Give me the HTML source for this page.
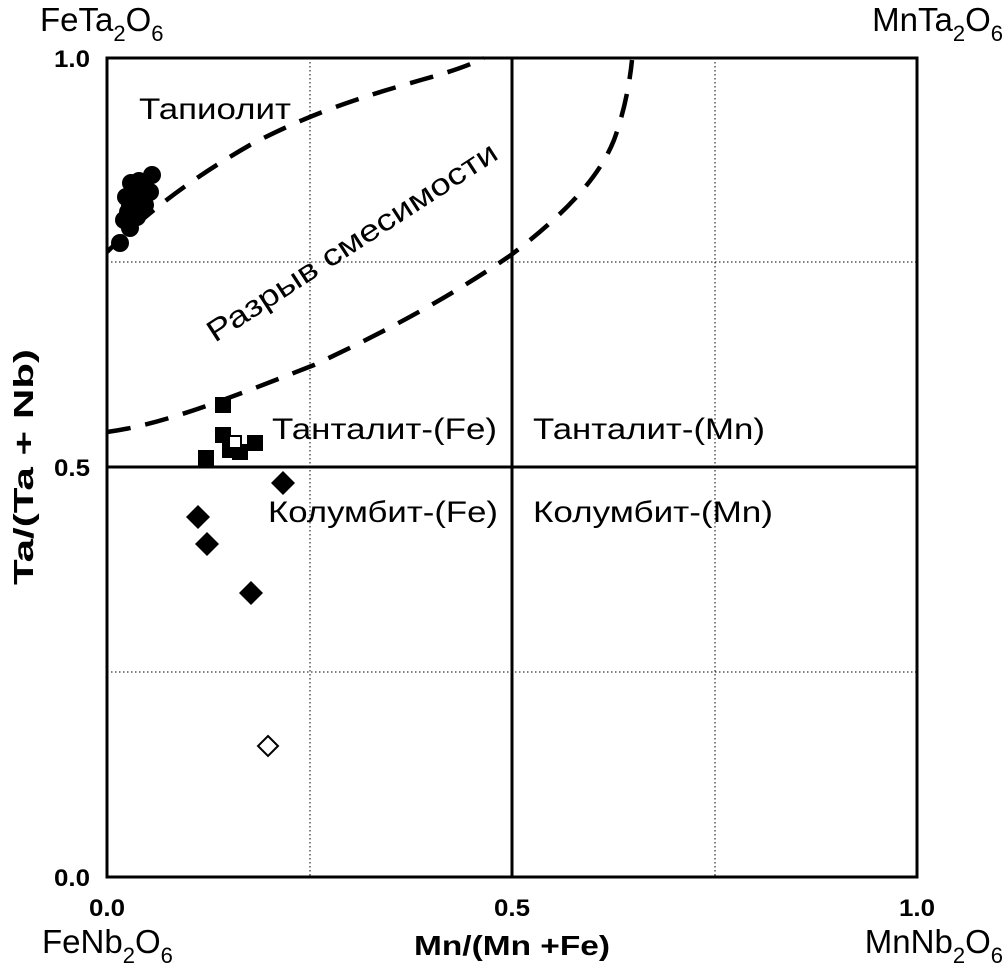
<!DOCTYPE html>
<html><head><meta charset="utf-8"><style>
html,body{margin:0;padding:0;background:#fff;}
svg{display:block;font-family:"Liberation Sans",sans-serif;}
.b{font-weight:bold;}
</style></head><body>
<svg width="1003" height="969" viewBox="0 0 1003 969" xmlns="http://www.w3.org/2000/svg">
<rect width="1003" height="969" fill="#fff"/>
<g stroke="#000" stroke-width="1" stroke-dasharray="1.5,2.5" fill="none">
<line x1="310" y1="58" x2="310" y2="877"/>
<line x1="715" y1="58" x2="715" y2="877"/>
<line x1="107" y1="262" x2="917" y2="262"/>
<line x1="107" y1="672" x2="917" y2="672"/>
</g>
<g stroke="#000" stroke-width="3" fill="none">
<rect x="107" y="58" width="810" height="819"/>
<line x1="512" y1="58" x2="512" y2="877"/>
<line x1="107" y1="467" x2="917" y2="467"/>
</g>
<g stroke="#000" stroke-width="4.5" stroke-dasharray="24,15" fill="none">
<path d="M107,252 C140,220 180,185 250,145 C320,108 380,92 421,80 C450,72 470,65 484,58"/>
<path d="M107,432 C160,425 220,402 314,365 C400,325 460,290 511,255 C570,210 600,175 614,140 C625,110 630,80 632,60"/>
</g>
<g fill="#000">
<circle cx="152" cy="175" r="9"/><circle cx="131" cy="183" r="9"/><circle cx="139" cy="181" r="9"/>
<circle cx="126" cy="197" r="9"/><circle cx="150" cy="192" r="9"/><circle cx="138" cy="195" r="9"/>
<circle cx="130" cy="205" r="9"/><circle cx="145" cy="205" r="9"/><circle cx="124" cy="220" r="9"/>
<circle cx="137" cy="217" r="9"/><circle cx="130" cy="228" r="9"/><circle cx="120" cy="243" r="9"/>
<circle cx="128" cy="212" r="9"/><circle cx="142" cy="188" r="9"/>
<rect x="215" y="397" width="16" height="16"/><rect x="215" y="427" width="16" height="16"/>
<rect x="198" y="450" width="16" height="16"/><rect x="222" y="442" width="16" height="16"/>
<rect x="232" y="444" width="16" height="16"/><rect x="247" y="435" width="16" height="16"/>
<rect x="229" y="436" width="12" height="12" fill="#fff" stroke="#000" stroke-width="2"/>
<polygon points="283,471 295,483 283,495 271,483"/>
<polygon points="198,505 210,517 198,529 186,517"/>
<polygon points="207,532 219,544 207,556 195,544"/>
<polygon points="251,581 263,593 251,605 239,593"/>
</g>
<polygon points="268,736 278,746 268,756 258,746" fill="#fff" stroke="#000" stroke-width="2"/>
<g font-size="30" fill="#000">
<text x="139" y="119" textLength="152" lengthAdjust="spacingAndGlyphs">Тапиолит</text>
<text x="272" y="439" textLength="225" lengthAdjust="spacingAndGlyphs">Танталит-(Fe)</text>
<text x="533" y="439" textLength="232" lengthAdjust="spacingAndGlyphs">Танталит-(Mn)</text>
<text x="268" y="522" textLength="230" lengthAdjust="spacingAndGlyphs">Колумбит-(Fe)</text>
<text x="533" y="522" textLength="240" lengthAdjust="spacingAndGlyphs">Колумбит-(Mn)</text>
<text x="352" y="252" text-anchor="middle" textLength="340" lengthAdjust="spacingAndGlyphs" transform="rotate(-33 352 242)">Разрыв смесимости</text>
</g>
<g font-size="33" fill="#000">
<text x="40" y="31">FeTa<tspan font-size="22" dy="10">2</tspan><tspan dy="-10">O</tspan><tspan font-size="22" dy="10">6</tspan></text>
<text x="1003" y="31" text-anchor="end">MnTa<tspan font-size="22" dy="10">2</tspan><tspan dy="-10">O</tspan><tspan font-size="22" dy="10">6</tspan></text>
<text x="42" y="953">FeNb<tspan font-size="22" dy="10">2</tspan><tspan dy="-10">O</tspan><tspan font-size="22" dy="10">6</tspan></text>
<text x="1003" y="953" text-anchor="end">MnNb<tspan font-size="22" dy="10">2</tspan><tspan dy="-10">O</tspan><tspan font-size="22" dy="10">6</tspan></text>
</g>
<g class="b" font-size="24" fill="#000">
<text x="90" y="67" text-anchor="end" textLength="36" lengthAdjust="spacingAndGlyphs">1.0</text>
<text x="90" y="476" text-anchor="end" textLength="36" lengthAdjust="spacingAndGlyphs">0.5</text>
<text x="90" y="886" text-anchor="end" textLength="36" lengthAdjust="spacingAndGlyphs">0.0</text>
<text x="89" y="916" textLength="36" lengthAdjust="spacingAndGlyphs">0.0</text>
<text x="494" y="916" textLength="36" lengthAdjust="spacingAndGlyphs">0.5</text>
<text x="899" y="916" textLength="36" lengthAdjust="spacingAndGlyphs">1.0</text>
<text x="414" y="955" font-size="28" textLength="196" lengthAdjust="spacingAndGlyphs">Mn/(Mn +Fe)</text>
<text x="0" y="0" font-size="28" text-anchor="middle" textLength="236" lengthAdjust="spacingAndGlyphs" transform="translate(33,467) rotate(-90)">Ta/(Ta + Nb)</text>
</g>
</svg>
</body></html>
